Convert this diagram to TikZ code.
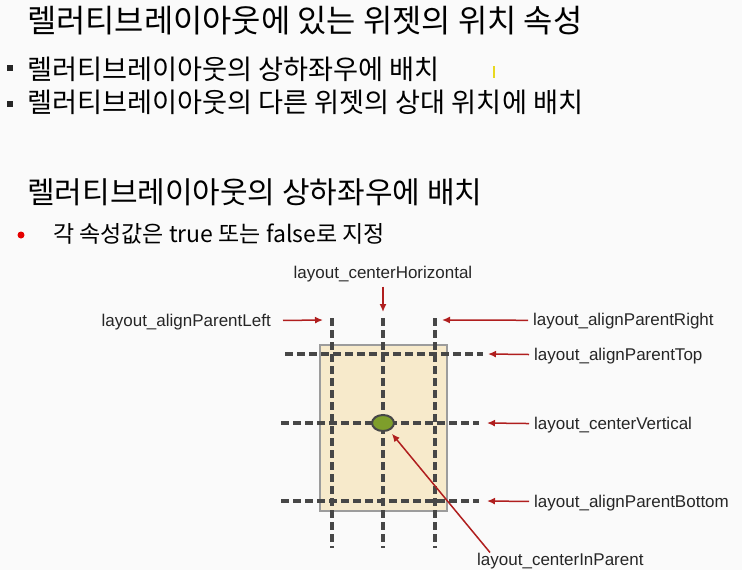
\documentclass[tikz,border=0pt]{standalone}
\usepackage{fontspec}
\setmainfont{Noto Sans CJK KR}
\newfontfamily\attrfont{Liberation Sans}
\usetikzlibrary{arrows.meta, positioning, shapes.geometric}

\definecolor{guidegray}{HTML}{474747}
\definecolor{pointred}{HTML}{B01E1E}
\definecolor{boxfill}{HTML}{F7EACB}
\definecolor{boxedge}{HTML}{9C9C9C}
\definecolor{dotgreen}{HTML}{7E9E2B}

\begin{document}
\begin{tikzpicture}[x=1pt, y=-1pt,
    guide/.style={draw=guidegray, line width=3.3pt, dash pattern=on 8pt off 4pt},
    pointer/.style={draw=pointred, line width=1.5pt, -{Latex[length=8pt,width=7pt]}},
    attr/.style={font=\attrfont\fontsize{17}{19}\selectfont, text=black!85, inner sep=0pt}]
    \useasboundingbox[fill=white!98!black] (0,0) rectangle (742,570);

    % Texts
    \node[anchor=base west, font=\fontsize{31.8}{34}\selectfont, inner sep=0] (title) at (27,32) {렐러티브레이아웃에 있는 위젯의 위치 속성};
    \node[fill=black!85, minimum size=6pt, inner sep=0] (sq1) at (10,68) {};
    \node[anchor=base west, font=\fontsize{27.2}{30}\selectfont, inner sep=0] (item1) at (27,79) {렐러티브레이아웃의 상하좌우에 배치};
    \node[fill=black!85, minimum size=6pt, inner sep=0] (sq2) at (10,104) {};
    \node[anchor=base west, font=\fontsize{27.2}{30}\selectfont, inner sep=0] (item2) at (27,112) {렐러티브레이아웃의 다른 위젯의 상대 위치에 배치};
    \draw[draw={rgb,255:red,232;green,216;blue,32}, line width=2pt] (494,66) -- (494,78);
    \node[anchor=base west, font=\fontsize{30}{33}\selectfont, inner sep=0] (heading) at (27,203) {렐러티브레이아웃의 상하좌우에 배치};
    \node[circle, fill=red!90!black, minimum size=7pt, inner sep=0] (dot) at (21,235) {};
    \node[anchor=base west, font=\fontsize{23}{26}\selectfont, inner sep=0] (note) at (53,242) {각 속성값은 true 또는 false로 지정};

    % Layout box and guides
    \node[draw=boxedge, fill=boxfill, line width=2.5pt, minimum width=127pt, minimum height=166pt, inner sep=0] (layout) at (383.5,428) {};
    \draw[guide] (332,318) -- (332,548);
    \draw[guide] (383,318) -- (383,548);
    \draw[guide] (435,318) -- (435,548);
    \draw[guide] (285,354) -- (483,354);
    \draw[guide] (281,423) -- (479,423);
    \draw[guide] (281,501) -- (479,501);
    \node[ellipse, draw=guidegray, fill=dotgreen, line width=2pt, minimum width=22pt, minimum height=16pt, inner sep=0] (center) at (383,423) {};

    % Labels
    \node[attr, anchor=base] (lblHoriz) at (383,278) {layout\_centerHorizontal};
    \node[attr, anchor=base east] (lblLeft) at (271,326) {layout\_alignParentLeft};
    \node[attr, anchor=base west] (lblRight) at (533,325) {layout\_alignParentRight};
    \node[attr, anchor=base west] (lblTop) at (534,360) {layout\_alignParentTop};
    \node[attr, anchor=base west] (lblVert) at (534,429) {layout\_centerVertical};
    \node[attr, anchor=base west] (lblBottom) at (534,507) {layout\_alignParentBottom};
    \node[attr, anchor=base west] (lblInParent) at (477,565) {layout\_centerInParent};

    % Arrow tips
    \coordinate (tipHoriz) at (383,312);
    \coordinate (tipLeft) at (323,320);
    \coordinate (tipRight) at (442,320);
    \coordinate (tipTop) at (488,354);
    \coordinate (tipVert) at (487,423);
    \coordinate (tipBottom) at (487,501);

    % Arrows
    \draw[pointer, shorten <=5pt] (lblHoriz) -- (tipHoriz);
    \draw[pointer, shorten <=12pt] (lblLeft) -- (tipLeft);
    \draw[pointer, shorten <=5pt] (lblRight) -- (tipRight);
    \draw[pointer, shorten <=5pt] (lblTop) -- (tipTop);
    \draw[pointer, shorten <=5pt] (lblVert) -- (tipVert);
    \draw[pointer, shorten <=5pt] (lblBottom) -- (tipBottom);
    \draw[pointer, shorten >=4pt] ([xshift=13pt]lblInParent.north west) -- (center);
\end{tikzpicture}
\end{document}
